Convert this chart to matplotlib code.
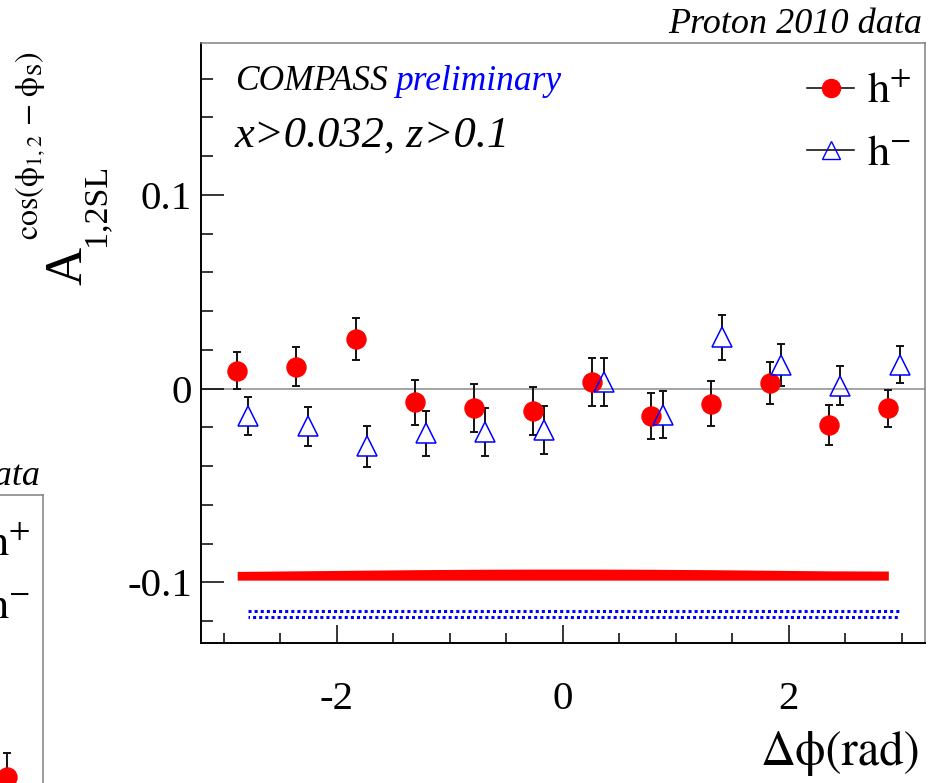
import numpy as np
import matplotlib
matplotlib.use("Agg")
import matplotlib.pyplot as plt
from matplotlib.lines import Line2D

plt.rcParams['mathtext.fontset'] = 'stix'
plt.rcParams['font.family'] = ['Liberation Serif', 'DejaVu Serif']

# ---------------- data ----------------
bin_centers = [-2.880, -2.356, -1.833, -1.309, -0.785, -0.262,
               0.262, 0.785, 1.309, 1.833, 2.356, 2.880]
hp_val = [0.0093, 0.0114, 0.0257, -0.0071, -0.0098, -0.0114,
          0.0033, -0.0140, -0.0078, 0.0031, -0.0187, -0.0101]
hp_err = [0.0096, 0.0102, 0.0107, 0.0117, 0.0123, 0.0123,
          0.0123, 0.0119, 0.0116, 0.0109, 0.0101, 0.0096]
hm_val = [-0.0140, -0.0194, -0.0298, -0.0230, -0.0222, -0.0214,
          0.0036, -0.0134, 0.0266, 0.0124, 0.0016, 0.0124]
hm_err = [0.0098, 0.0101, 0.0106, 0.0116, 0.0123, 0.0124,
          0.0125, 0.0120, 0.0116, 0.0109, 0.0102, 0.0096]
# systematic bands
hp_sys_base = -0.0988
hp_sys = [0.0045, 0.0048, 0.0051, 0.0054, 0.0056, 0.0057,
          0.0057, 0.0056, 0.0054, 0.0051, 0.0048, 0.0047]
hm_sys_base = -0.1178
hm_sys = [0.0031, 0.0031, 0.0031, 0.0031, 0.0031, 0.0031,
          0.0031, 0.0031, 0.0031, 0.0031, 0.0031, 0.0031]
# neighbouring (cropped) panel: only one point visible
left_centers = [2.880]
left_hp_val = [0.0330]
left_hp_err = [0.0124]

xlim = (-3.2, 3.2)
ylim = (-0.1314, 0.1786)
yticks_major = [-0.1, 0.0, 0.1]
ytick_labels = ['-0.1', '0', '0.1']
xticks_major = [-2, 0, 2]
xtick_labels = ['-2', '0', '2']
hm_shift = 0.10

W, H = 940, 783
fig = plt.figure(figsize=(W / 100, H / 100), dpi=100)

ax_w = 723.5 / W
ax_h = 600.6 / H
main_pos = [201 / W, 1 - 643.3 / H, ax_w, ax_h]
off_x, off_y = -881.5, 452.3
left_pos = [(201 + off_x) / W, 1 - (643.3 + off_y) / H, ax_w, ax_h]

RED = '#ff0000'
BLUE = '#0000ff'
ms_circle = 13.7
ms_tri = 14.6
gap_px = 10.0
px_per_unit = 600.6 / (ylim[1] - ylim[0])
gap = gap_px / px_per_unit


def draw_errors(ax, x, y, e, g):
    x = np.asarray(x); y = np.asarray(y); e = np.asarray(e)
    ax.vlines(x, y + g, y + e, color='#111111', lw=1.4, zorder=3)
    ax.vlines(x, y - e, y - g, color='#111111', lw=1.4, zorder=3)
    ax.plot(x, y + e, ls='none', marker='_', ms=6.0, mew=1.4, color='#111111', zorder=3)
    ax.plot(x, y - e, ls='none', marker='_', ms=6.0, mew=1.4, color='#111111', zorder=3)


def style_axes(ax):
    ax.set_xlim(*xlim)
    ax.set_ylim(*ylim)
    for s in ['top', 'right']:
        ax.spines[s].set_color('#808080')
        ax.spines[s].set_linewidth(1.1)
    for s in ['left', 'bottom']:
        ax.spines[s].set_color('black')
        ax.spines[s].set_linewidth(1.4)
    ax.set_yticks(yticks_major)
    ax.set_yticklabels(ytick_labels)
    ax.set_yticks(np.arange(-0.12, 0.17, 0.02), minor=True)
    ax.set_xticks(xticks_major)
    ax.set_xticklabels(xtick_labels)
    ax.set_xticks(np.arange(-3, 3.01, 0.5), minor=True)
    ax.tick_params(axis='y', which='major', direction='in', length=16.6, width=1.1,
                   labelsize=29.5, pad=6.5, right=False, colors='black')
    ax.tick_params(axis='y', which='minor', direction='in', length=8.6, width=1.1,
                   right=False)
    ax.tick_params(axis='x', which='major', direction='in', length=12.7, width=1.1,
                   labelsize=29.5, pad=27, top=False)
    ax.tick_params(axis='x', which='minor', direction='in', length=6.9, width=1.1,
                   top=False)
    ax.axhline(0.0, color='#8c8c8c', lw=1.1, zorder=1)


def add_legend(ax):
    handles = [
        Line2D([], [], color='black', lw=1.1, marker='o', ms=13, mfc=RED, mec=RED),
        Line2D([], [], color='black', lw=1.1, marker='^', ms=13.5, mfc='none',
               mec=BLUE, mew=1.0),
    ]
    labels = [r'$\mathrm{h}^{+}$', r'$\mathrm{h}^{-}$']
    ax.legend(handles, labels, loc='upper right',
              bbox_to_anchor=((912 - 201) / 723.5, 1 - (72 - 42.7) / 600.6),
              frameon=False, fontsize=32, handlelength=1.05, handletextpad=0.3,
              labelspacing=0.5, borderpad=0, borderaxespad=0)


# ---------------- main panel ----------------
ax = fig.add_axes(main_pos)
style_axes(ax)

c = np.asarray(bin_centers)
ax.fill_between(c, hp_sys_base, hp_sys_base + np.asarray(hp_sys), color=RED, lw=0, zorder=2)
cb = c + hm_shift
ax.plot(cb, hm_sys_base + np.asarray(hm_sys), color=BLUE, lw=2.2, ls=(0, (1, 1)), zorder=2)
ax.plot(cb, np.full_like(cb, hm_sys_base), color=BLUE, lw=2.2, ls=(0.5, (1, 1)), zorder=2)

draw_errors(ax, c, hp_val, hp_err, 0.0)
ax.plot(c, hp_val, ls='none', marker='o', ms=ms_circle, mfc=RED, mec=RED, zorder=4)
draw_errors(ax, cb, hm_val, hm_err, gap)
ax.plot(cb, hm_val, ls='none', marker='^', ms=ms_tri, mfc='none', mec=BLUE, mew=1.1, zorder=5)
add_legend(ax)

# ---------------- cropped neighbouring panel ----------------
axl = fig.add_axes(left_pos)
style_axes(axl)
draw_errors(axl, left_centers, left_hp_val, left_hp_err, 0.0)
axl.plot(left_centers, left_hp_val, ls='none', marker='o', ms=ms_circle, mfc=RED, mec=RED, zorder=4)
add_legend(axl)

# ---------------- texts ----------------
fig.text(922 / W, 1 - 33 / H, 'Proton 2010 data', ha='right', va='baseline',
         fontsize=26, style='italic')
fig.text((922 + off_x) / W, 1 - (33 + off_y) / H, 'Proton 2010 data', ha='right',
         va='baseline', fontsize=26, style='italic')
fig.text(235 / W, 1 - 90 / H, 'COMPASS', ha='left', va='baseline', fontsize=25.5,
         style='italic')
fig.text(395 / W, 1 - 90 / H, 'preliminary', ha='left', va='baseline', fontsize=25.5,
         style='italic', color=BLUE)
fig.text(235 / W, 1 - 147 / H, 'x>0.032, z>0.1', ha='left', va='baseline',
         fontsize=32, style='italic')

# x axis title
fig.text(920 / W, 1 - 765 / H, '\u0394\u03d5(rad)', ha='right', va='baseline',
         fontsize=35, family=['STIXGeneral', 'DejaVu Serif'])

# y axis title, composed of pieces (rotated)
fig.text(82 / W, 1 - 285 / H, 'A', rotation=90, rotation_mode='anchor',
         ha='left', va='baseline', fontsize=38)
fig.text(104 / W, 1 - 246 / H, '1,2SL', rotation=90, rotation_mode='anchor',
         ha='left', va='baseline', fontsize=24.5)
fig.text(38 / W, 1 - 240 / H,
         r'$\mathrm{cos}(\mathrm{\phi}_{1,2}\ \mathrm{-}\ \mathrm{\phi}_{\mathrm{S}})$',
         rotation=90, rotation_mode='anchor', ha='left', va='baseline', fontsize=23)

fig.savefig('out.png', dpi=100)
